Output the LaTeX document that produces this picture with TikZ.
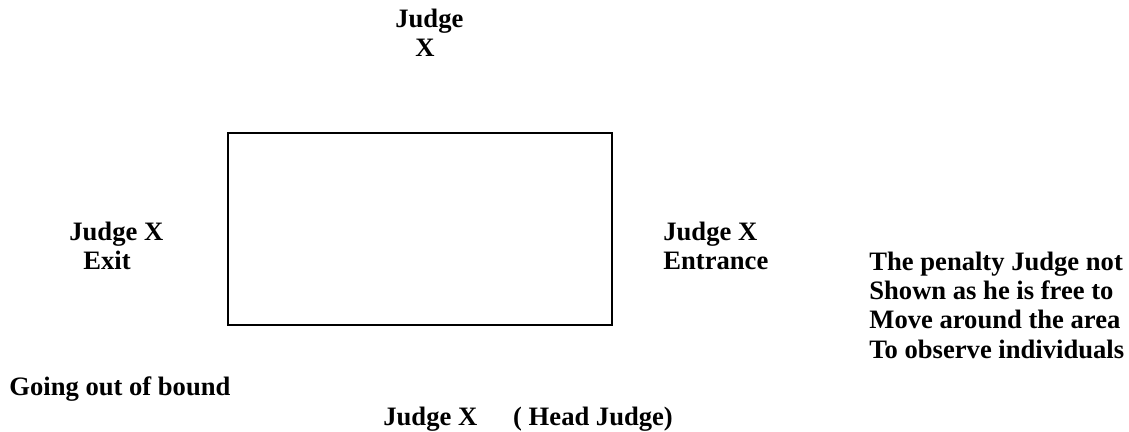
\documentclass[tikz,border=0pt]{standalone}
\usepackage{fontspec}
\setmainfont{Liberation Serif}
\usepackage{tikz}

\begin{document}
\begin{tikzpicture}[x=0.5pt,y=-0.5pt,
		lbl/.style={anchor=base west,inner sep=0pt,font=\fontsize{13.3}{15}\selectfont\bfseries},
		field/.style={draw,line width=1.2pt}]
		\useasboundingbox (0,0) rectangle (1129,432);
		\draw[field] (228,133) rectangle (612,325);
		\node[lbl](topjudge) at (395,28){Judge};
		\node[lbl](topx) at (415,57){X};
		\node[lbl](exitjudge) at (69,241){Judge X};
		\node[lbl](exit) at (83,270){Exit};
		\node[lbl](entjudge) at (663,241){Judge X};
		\node[lbl](entrance) at (663,270){Entrance};
		\node[lbl](pen1) at (869,271){The penalty Judge not};
		\node[lbl](pen2) at (869,300){Shown as he is free to};
		\node[lbl](pen3) at (869,329){Move around the area};
		\node[lbl](pen4) at (869,358){To observe individuals};
		\node[lbl](bound) at (9,395){Going out of bound};
		\node[lbl](headjudge) at (383,425){Judge X\hspace{18pt}( Head Judge)};
	\end{tikzpicture}
\end{document}
